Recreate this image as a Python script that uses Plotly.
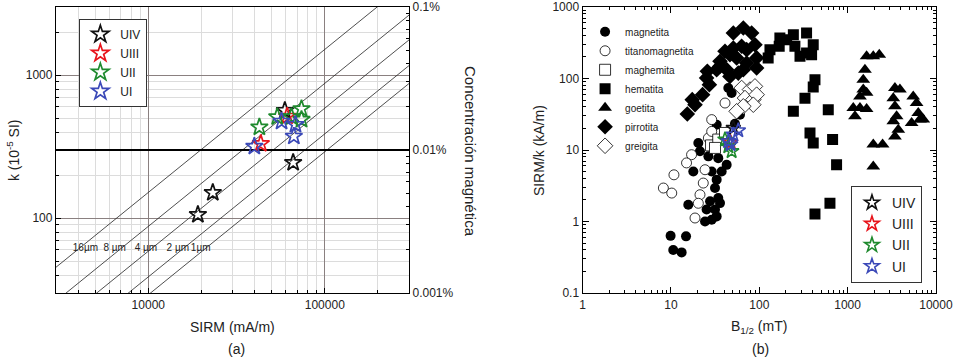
import math
import plotly.graph_objects as go

# ---------------- Panel (a) data ----------------
uiv_sirm = [59400, 66200, 23200, 19100]
uiv_k = [566, 245, 151, 106]
uiii_sirm = [43400, 61200]
uiii_k = [332, 516]
uii_sirm = [42600, 73800, 53800, 64800, 73800]
uii_k = [433, 582, 511, 511, 490]
ui_sirm = [39900, 56900, 68200, 66800]
ui_k = [318, 476, 452, 374]

grain_labels = ["16µm", "8 µm", "4 µm", "2 µm", "1µm"]
grain_ratio = [66, 114, 170, 257, 343]          # SIRM/k along each grain-size line
grain_label_sirm = [4400, 6450, 9700, 14700, 19800]
grain_label_k = 61

sirm_ticks = [10000, 100000]
sirm_ticktext = ["10000", "100000"]
k_ticks = [100, 1000]
k_ticktext = ["100", "1000"]
conc_ticks = [0.001, 0.01, 0.1]
conc_ticktext = ["0.001%", "0.01%", "0.1%"]
conc_ref_k = 300                               # k equivalent to 0.01 %

sirm_range = [3000, 300000]
k_range = [30, 3000]

# ---------------- Panel (b) data ----------------
mag_b = [60.4, 32.9, 20.4, 21.3, 26.5, 34.3, 42.7, 17.9, 28.9, 37.5, 32.9, 31.5, 34.3,
         27.7, 35.9, 25.3, 31.5, 32.9, 24.3, 28.9, 15.7, 9.9, 14.8, 10.6, 13.2, 44.6, 48.6, 53]
mag_r = [31.2, 22.6, 12.5, 9.6, 8.15, 7.7, 6.2, 5.0, 5.0, 5.0, 3.85, 2.94, 2.13,
         1.92, 1.81, 1.47, 1.47, 1.18, 1.0, 1.06, 1.72, 0.63, 0.62, 0.40, 0.37, 73.6, 62.7, 23.3]

tmag_b = [28.9, 26.5, 28.9, 17.1, 15.0, 24.3, 10.8, 23.2, 8.2, 10.2, 21.3, 20.4, 18.7, 40.9]
tmag_r = [26.6, 14.7, 18.2, 8.6, 6.6, 5.3, 4.5, 3.45, 2.94, 2.5, 2.37, 1.8, 1.12, 45.4]

magh_b = [28.4, 34.3, 31.5, 40.9]
magh_r = [11.6, 14.0, 10.7, 17.3]

hem_b = [132, 126, 171, 168, 243, 253, 343, 289, 343, 408, 391, 204, 427, 408, 329,
         243, 604, 375, 408, 676, 750, 631, 427]
hem_r = [253, 194, 368, 282, 410, 282, 433, 204, 227, 297, 215, 349, 96, 76, 53,
         34.7, 36.6, 17.3, 12.5, 14.0, 6.2, 1.8, 1.27]

goe_b = [1641, 1953, 2282, 1571, 1504, 1504, 1380, 1641, 1159, 1380, 1641, 1211,
         3434, 3910, 3290, 3434, 3589, 5536, 6040, 6310, 6590, 1953, 2489, 1953,
         3290, 3750, 5308, 7190, 3434]
goe_r = [204, 204, 215, 133, 96, 70, 56, 63, 38.6, 38.6, 37.4, 29.6,
         73.6, 70, 53, 40.8, 29.6, 56, 45.4, 32.9, 26.6, 11.9, 11.9, 5.9,
         25.2, 19.2, 23.9, 26.6, 15.5]

pyr_b = [15.3, 17.4, 18.7, 22.8, 25.8, 27.2, 25.3, 35.9, 40.9, 50.8, 65.9, 81.9, 89.3,
         50.8, 55.4, 71.9, 71.9, 57.8, 42.7, 46.5, 35.9, 93.3, 65.9, 93.3, 63.1, 46.5, 32.9]
pyr_r = [31.9, 50.6, 43, 59.4, 126, 82, 102, 174, 240, 433, 508, 433, 297,
         267, 194, 253, 165, 119, 133, 107, 148, 194, 133, 140, 282, 215, 133]

gre_b = [63.1, 78.4, 89.3, 68.9, 85.5, 93.3, 85.5, 65.9, 55.4]
gre_r = [73.6, 70, 77.6, 53.3, 50.6, 59.4, 43, 40.8, 34.8]

b_uiv_b, b_uiv_r = [50.8], [20.3]
b_uiii_b, b_uiii_r = [47.3], [12.8]
b_uii_b, b_uii_r = [40.9, 44.6, 48.6], [14, 11.2, 9.6]
b_ui_b, b_ui_r = [57.8, 50.8, 44.6, 47.3], [18.8, 16.4, 13.2, 12]

b_ticks = [1, 10, 100, 1000, 10000]
b_ticktext = ["1", "10", "100", "1000", "10000"]
r_ticks = [0.1, 1, 10, 100, 1000]
r_ticktext = ["0.1", "1", "10", "100", "1000"]

FONT = "Liberation Sans, Arial, sans-serif"
unit_colors = {"UIV": "#111111", "UIII": "#e8141b", "UII": "#1f8a2e", "UI": "#3b49b8"}

fig = go.Figure()

# grain-size lines
for r in grain_ratio:
    fig.add_trace(go.Scatter(x=sirm_range, y=[sirm_range[0] / r, sirm_range[1] / r],
                             mode="lines", line=dict(color="#222", width=0.8),
                             showlegend=False, hoverinfo="skip", xaxis="x", yaxis="y"))
# reference 0.01% line
fig.add_trace(go.Scatter(x=sirm_range, y=[conc_ref_k, conc_ref_k], mode="lines",
                         line=dict(color="black", width=1.8), showlegend=False,
                         hoverinfo="skip", xaxis="x", yaxis="y"))
# grain labels
fig.add_trace(go.Scatter(x=grain_label_sirm, y=[grain_label_k] * len(grain_label_sirm),
                         mode="text", text=grain_labels,
                         textfont=dict(family=FONT, size=10, color="#222"),
                         showlegend=False, hoverinfo="skip", xaxis="x", yaxis="y"))

for name, xs, ys in [("UIV", uiv_sirm, uiv_k), ("UIII", uiii_sirm, uiii_k),
                     ("UII", uii_sirm, uii_k), ("UI", ui_sirm, ui_k)]:
    fig.add_trace(go.Scatter(x=xs, y=ys, mode="markers", name=name, legend="legend",
                             marker=dict(symbol="star-open", size=13, color=unit_colors[name],
                                         line=dict(color=unit_colors[name], width=1.7)),
                             xaxis="x", yaxis="y"))

# invisible trace for concentration axis
fig.add_trace(go.Scatter(x=[sirm_range[0]], y=[conc_ticks[1]], mode="markers",
                         marker=dict(opacity=0), showlegend=False, hoverinfo="skip",
                         xaxis="x", yaxis="y3"))

# ---------------- Panel (b) traces ----------------
minerals = [
    ("magnetita", mag_b, mag_r, dict(symbol="circle", size=10, color="black", line=dict(width=0))),
    ("titanomagnetita", tmag_b, tmag_r, dict(symbol="circle", size=10, color="white", line=dict(color="black", width=0.8))),
    ("maghemita", magh_b, magh_r, dict(symbol="square", size=11, color="white", line=dict(color="black", width=0.8))),
    ("hematita", hem_b, hem_r, dict(symbol="square", size=11, color="black", line=dict(width=0))),
    ("goetita", goe_b, goe_r, dict(symbol="triangle-up", size=12, color="black", line=dict(width=0))),
    ("pirrotita", pyr_b, pyr_r, dict(symbol="diamond", size=12, color="black", line=dict(width=0))),
    ("greigita", gre_b, gre_r, dict(symbol="diamond", size=12, color="white", line=dict(color="black", width=0.8))),
]
for name, xs, ys, mk in minerals:
    fig.add_trace(go.Scatter(x=xs, y=ys, mode="markers", name=name, legend="legend2",
                             marker=mk, xaxis="x2", yaxis="y2"))

for name, xs, ys in [("UIV", b_uiv_b, b_uiv_r), ("UIII", b_uiii_b, b_uiii_r),
                     ("UII", b_uii_b, b_uii_r), ("UI", b_ui_b, b_ui_r)]:
    fig.add_trace(go.Scatter(x=xs, y=ys, mode="markers", name=name, legend="legend3",
                             marker=dict(symbol="star-open", size=11, color=unit_colors[name],
                                         line=dict(color=unit_colors[name], width=1.6)),
                             xaxis="x2", yaxis="y2"))

tickfont = dict(family=FONT, size=12, color="#222")


def ann(text, x, y, size=14, angle=0):
    return dict(text=text, x=x, y=y, xref="paper", yref="paper", showarrow=False,
                xanchor="center", yanchor="middle", textangle=angle,
                font=dict(family=FONT, size=size, color="#222"))


fig.update_layout(
    width=956, height=360, margin=dict(l=0, r=0, t=0, b=0, pad=0, autoexpand=False),
    paper_bgcolor="white", plot_bgcolor="white",
    font=dict(family=FONT, color="#222"),
    xaxis=dict(domain=[0.0586, 0.4278], type="log", automargin=False,
               range=[math.log10(sirm_range[0]), math.log10(sirm_range[1])],
               tickvals=sirm_ticks, ticktext=sirm_ticktext, tickfont=tickfont,
               showline=True, linecolor="black", linewidth=1.3, mirror=True,
               ticks="inside", ticklen=5, tickcolor="black",
               showgrid=True, gridcolor="#8a8080", gridwidth=1,
               minor=dict(dtick="D1", showgrid=True, gridcolor="#dcdcdc", ticks="inside",
                          ticklen=3, tickcolor="black"),
               anchor="y", zeroline=False),
    yaxis=dict(domain=[0.186, 0.9806], type="log", automargin=False,
               range=[math.log10(k_range[0]), math.log10(k_range[1])],
               tickvals=k_ticks, ticktext=k_ticktext, tickfont=tickfont,
               showline=True, linecolor="black", linewidth=1.3, mirror=True,
               ticks="inside", ticklen=5, tickcolor="black",
               showgrid=True, gridcolor="#8a8080", gridwidth=1,
               minor=dict(dtick="D1", showgrid=True, gridcolor="#dcdcdc", ticks="inside",
                          ticklen=3, tickcolor="black"),
               anchor="x", zeroline=False),
    yaxis3=dict(overlaying="y", side="right", anchor="x", type="log", automargin=False,
                range=[math.log10(conc_ticks[0]), math.log10(conc_ticks[2])],
                tickvals=conc_ticks, ticktext=conc_ticktext, tickfont=tickfont,
                ticks="inside", ticklen=5, tickcolor="black", showgrid=False,
                minor=dict(dtick="D1", ticks="inside", ticklen=3, tickcolor="black"),
                showline=True, linecolor="black", linewidth=1.3, zeroline=False),
    xaxis2=dict(domain=[0.6095, 0.979], type="log", range=[0, 4], automargin=False,
                tickvals=b_ticks, ticktext=b_ticktext, tickfont=tickfont,
                showline=True, linecolor="black", linewidth=1.3, mirror="allticks",
                ticks="inside", ticklen=6, tickcolor="black", showgrid=False,
                minor=dict(dtick="D1", ticks="inside", ticklen=3, tickcolor="black"),
                anchor="y2", zeroline=False),
    yaxis2=dict(domain=[0.186, 0.9806], type="log", range=[-1, 3], automargin=False,
                tickvals=r_ticks, ticktext=r_ticktext, tickfont=tickfont,
                showline=True, linecolor="black", linewidth=1.3, mirror="allticks",
                ticks="inside", ticklen=6, tickcolor="black", showgrid=False,
                minor=dict(dtick="D1", ticks="inside", ticklen=3, tickcolor="black"),
                anchor="x2", zeroline=False),
    legend=dict(x=0.083, y=0.948, xanchor="left", yanchor="top",
                bordercolor="#333", borderwidth=1, bgcolor="white",
                font=dict(family=FONT, size=12, color="#222"), tracegroupgap=0),
    legend2=dict(x=0.612, y=0.952, xanchor="left", yanchor="top",
                 bgcolor="rgba(0,0,0,0)", borderwidth=0,
                 font=dict(family=FONT, size=10, color="#222"), tracegroupgap=0),
    legend3=dict(x=0.9644, y=0.2139, xanchor="right", yanchor="bottom",
                 bordercolor="#333", borderwidth=1, bgcolor="white",
                 font=dict(family=FONT, size=14, color="#222"), tracegroupgap=0),
    annotations=[
        ann("SIRM (mA/m)", 0.2437, 0.0917),
        ann("(a)", 0.247, 0.0306),
        ann("k (10<sup>-5</sup> SI)", 0.0136, 0.583, angle=-90),
        ann("Concentración magnética", 0.4916, 0.578, size=15, angle=90),
        ann("SIRM/k (kA/m)", 0.5638, 0.583, angle=-90),
        ann("B<sub>1/2</sub> (mT)", 0.794, 0.0917),
        ann("(b)", 0.796, 0.0306),
    ],
)

fig.write_html("out.html", config={"displayModeBar": False},
               post_script="document.body.style.margin='0';document.body.style.overflow='hidden';")
